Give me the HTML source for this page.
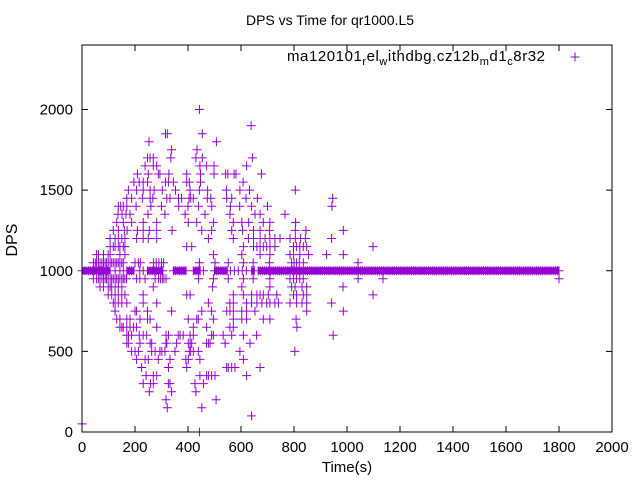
<!DOCTYPE html>
<html><head><meta charset="utf-8"><style>
html,body{margin:0;padding:0;background:#fff}
svg{display:block;font-family:"Liberation Sans",sans-serif}
</style></head><body>
<svg id="chart" width="640" height="480" viewBox="0 0 640 480" xmlns="http://www.w3.org/2000/svg">
<rect x="0" y="0" width="640" height="480" fill="#fff"/>
<text x="330" y="25" font-size="14" text-anchor="middle">DPS vs Time for qr1000.L5</text>
<text x="287" y="61" font-size="15" textLength="258" lengthAdjust="spacing">ma120101<tspan font-size="11" dy="4">r</tspan><tspan dy="-4">el</tspan><tspan font-size="11" dy="4">w</tspan><tspan dy="-4">ithdbg.cz12b</tspan><tspan font-size="11" dy="4">m</tspan><tspan dy="-4">d1</tspan><tspan font-size="11" dy="4">c</tspan><tspan dy="-4">8r32</tspan></text>
<g stroke="#9400d3" stroke-width="1"><line x1="570.5" y1="57" x2="579.5" y2="57"/><line x1="575" y1="52.5" x2="575" y2="61.5"/></g>
<text transform="translate(17,240) rotate(-90)" font-size="16" text-anchor="middle">DPS</text>
<text x="347" y="472" font-size="15" text-anchor="middle">Time(s)</text>
<g id="axes"></g>
<g id="marks"></g>
<rect x="82" y="45" width="530" height="387" fill="none" stroke="#000" stroke-width="1"/>
</svg>
<script>
const xTicks = [0,200,400,600,800,1000,1200,1400,1600,1800,2000];
const yTicks = [0,500,1000,1500,2000];
const bandLevel = 1000;
const bandTimes = [0,8,16,24,32,40,48,56,64,72,80,88,96,106,125,143,156,169,179,187,196,218,231,247,257,265,273,281,289,297,305,345,353,361,369,377,385,393,420,430,438,446,458,500,508,516,524,532,540,548,560,575,590,605,620,640,650,665,673,681,689,697,705,713,721,729,737,745,753,761,769,777,785,795,803,811,819,827,835,843,851,859,867,875,883,891,899,907,915,923,931,939,947,955,963,971,979,987,995,1003,1011,1019,1027,1035,1043,1051,1059,1067,1075,1083,1091,1099,1107,1115,1123,1131,1139,1147,1155,1163,1171,1179,1187,1195,1203,1211,1219,1227,1235,1243,1251,1259,1267,1275,1283,1291,1299,1307,1315,1323,1331,1339,1347,1355,1363,1371,1379,1387,1395,1403,1411,1419,1427,1435,1443,1451,1459,1467,1475,1483,1491,1499,1507,1515,1523,1531,1539,1547,1555,1563,1571,1579,1587,1595,1603,1611,1619,1627,1635,1643,1651,1659,1667,1675,1683,1691,1699,1707,1715,1723,1731,1739,1747,1755,1763,1771,1779,1787,1795,1800];
const levels = [2000,1900,1850,1800,1750,1700,1650,1600,1550,1500,1450,1400,1350,1300,1250,1200,1150,1100,1050,950,900,850,800,750,700,650,600,550,500,450,400,350,300,250,200,150,100,50,0];
const levelTimes = [
[443],
[638],
[315,322,454],
[253,507],
[338,434],
[247,257,269,335,430,454,643],
[238,269,282,445,470,498,621],
[209,250,288,294,328,395,447,498,542,550,574,581,677],
[196,216,231,247,315,326,345,395,405,447,608],
[175,206,231,257,272,303,353,408,443,474,545,596,632,805],
[169,187,228,257,267,320,332,364,376,404,410,420,473,486,546,565,619,662,946],
[137,146,156,169,204,260,300,365,400,440,490,560,595,640,700,943],
[136,151,166,181,249,313,389,464,558,653,672,766],
[131,156,187,231,282,401,433,496,571,603,629,684,709,806],
[118,137,160,170,209,231,254,282,340,452,489,565,606,647,672,707,805,845,986],
[106,125,137,150,162,206,231,250,282,477,571,628,647,672,691,709,728,747,785,805,825,843,942],
[106,118,125,137,143,156,162,395,414,609,647,660,672,684,697,709,728,798,810,822,835,848,1098],
[55,62,81,99,106,143,162,496,603,672,709,785,798,822,855,923,986],
[43,50,55,62,68,75,81,87,93,99,106,112,118,125,131,137,143,150,156,200,213,220,270,280,290,300,308,443,502,552,609,646,707,791,800,810,820,835,1042],
[43,55,62,68,75,81,87,93,99,106,112,118,125,131,137,143,150,156,162,168,206,218,238,276,289,296,303,309,317,440,496,552,609,646,709,785,798,810,822,835,1042,1136,1800],
[68,81,99,106,112,125,137,150,269,493,603,709,791,804,830,848,985],
[99,112,125,137,150,162,231,395,408,571,609,640,660,672,684,703,735,798,810,835,848,1098],
[118,125,137,150,169,231,282,477,558,571,621,640,660,679,697,709,728,741,785,810,830,848,942],
[125,200,206,247,338,452,489,546,558,571,603,621,653,848,986],
[131,143,169,181,219,247,257,401,433,439,496,571,603,621,684,709,808],
[143,150,156,169,181,194,206,282,420,470,558,571,811],
[169,175,187,216,231,244,317,326,363,370,382,408,420,489,496,533,565,609,659,948],
[169,175,219,257,263,317,320,357,401,408,414,470,477,483,540,634],
[187,200,213,263,276,294,301,313,351,405,410,420,439,596,803],
[206,238,250,288,332,392,401,445,609],
[225,326,395,546,552,565,577,672],
[242,269,282,445,470,477,489,502,621],
[231,259,269,326,332,426,458],
[254,338,430],
[317,506],
[322,452],
[640],
[0],
[443]
];
const NS = "http://www.w3.org/2000/svg";
const xScale = t => 82 + t * (530 / 2000);
const yScale = d => 432 - d * (387 / 2400);
const axes = document.getElementById('axes');
const marks = document.getElementById('marks');
function mk(tag, attrs, parent) {
  const el = document.createElementNS(NS, tag);
  for (const k in attrs) el.setAttribute(k, attrs[k]);
  parent.appendChild(el);
  return el;
}
xTicks.forEach(v => {
  const x = xScale(v);
  const g = mk('g', {stroke: '#000', 'stroke-width': 1}, axes);
  
  
  mk('line', {x1: x, y1: 432, x2: x, y2: 426}, g);
  mk('line', {x1: x, y1: 45, x2: x, y2: 51}, g);
  const t = mk('text', {x: x, y: 452, 'font-size': 15, 'text-anchor': 'middle'}, axes);
  
  
  t.textContent = v;
});
yTicks.forEach(v => {
  const y = yScale(v);
  const g = mk('g', {stroke: '#000', 'stroke-width': 1}, axes);
  
  
  mk('line', {x1: 82, y1: y, x2: 88, y2: y}, g);
  mk('line', {x1: 612, y1: y, x2: 606, y2: y}, g);
  const t = mk('text', {x: 73, y: y + 5, 'font-size': 15, 'text-anchor': 'end'}, axes);
  
  
  t.textContent = v;
});
let path = '';
function plus(t, d) {
  const x = xScale(t), y = yScale(d);
  path += 'M' + (x - 4.5).toFixed(1) + ' ' + y.toFixed(1) + 'h9M' + x.toFixed(1) + ' ' + (y - 4.5).toFixed(1) + 'v9';
}
// solid fill between closely spaced band samples (dense 1 s sampling)
let bandPath = '';
for (let i = 0; i < bandTimes.length - 1; i++) {
  if (bandTimes[i + 1] - bandTimes[i] <= 10) {
    const x1 = xScale(bandTimes[i]), x2 = xScale(bandTimes[i + 1]), y = yScale(bandLevel);
    bandPath += 'M' + x1.toFixed(1) + ' ' + (y - 3.5).toFixed(1) + 'H' + x2.toFixed(1) + 'V' + (y + 3.5).toFixed(1) + 'H' + x1.toFixed(1) + 'Z';
  }
}
const band = mk('path', {d: bandPath, fill: '#9400d3', stroke: 'none'}, marks);


bandTimes.forEach(t => plus(t, bandLevel));
levels.forEach((d, i) => levelTimes[i].forEach(t => plus(t, d)));
const p = mk('path', {d: path, stroke: '#9400d3', 'stroke-width': 1, fill: 'none'}, marks);


</script>
</body></html>
